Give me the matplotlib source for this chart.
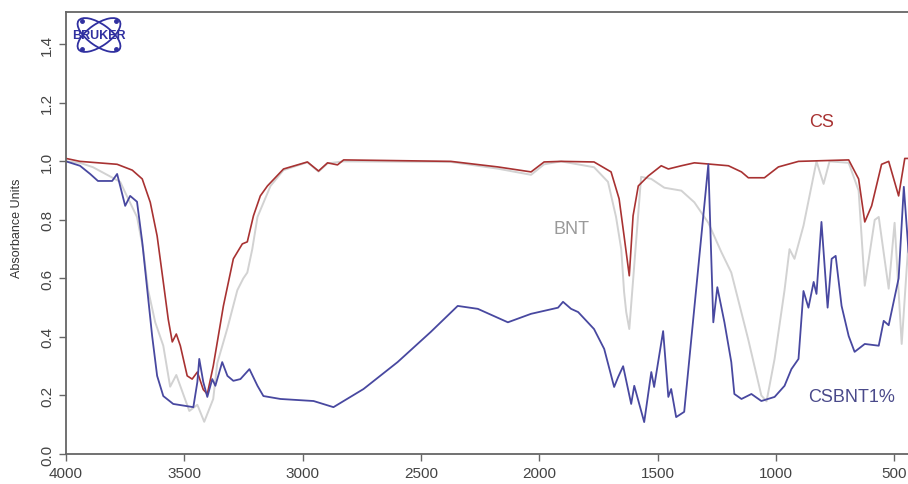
import numpy as np
import matplotlib.pyplot as plt
from matplotlib.patches import Ellipse

plt.rcParams['font.family'] = ['Liberation Sans', 'DejaVu Sans']

# CS spectrum (wavenumber, absorbance)
cs_wn = [4000, 3941, 3784, 3720, 3678, 3644, 3615, 3589, 3568, 3551, 3534, 3517,
         3488, 3467, 3445, 3420, 3403, 3378, 3335, 3293, 3255, 3234, 3208, 3179,
         3149, 3081, 2980, 2933, 2895, 2853, 2827, 2374, 2175, 2035, 1980, 1908,
         1769, 1697, 1663, 1642, 1620, 1604, 1582, 1540, 1485, 1455, 1400, 1345,
         1286, 1201, 1146, 1117, 1049, 990, 905, 693, 651, 625, 596, 554, 524,
         482, 456, 432]
cs_abs = [1.01, 1.0, 0.99, 0.97, 0.94, 0.86, 0.745, 0.588, 0.46, 0.383, 0.41, 0.37,
          0.267, 0.256, 0.28, 0.22, 0.205, 0.30, 0.506, 0.667, 0.718, 0.725, 0.814, 0.882,
          0.916, 0.974, 0.998, 0.967, 0.995, 0.988, 1.005, 1.0, 0.981, 0.964, 0.998, 1.0,
          0.998, 0.964, 0.872, 0.745, 0.609, 0.814, 0.916, 0.95, 0.985, 0.974, 0.985, 0.995,
          0.991, 0.985, 0.964, 0.944, 0.944, 0.981, 1.0, 1.005, 0.94, 0.793, 0.848, 0.99, 1.0,
          0.882, 1.01, 1.01]

# BNT spectrum
bnt_wn = [4000, 3941, 3886, 3771, 3742, 3700, 3674, 3653, 3623, 3589, 3560, 3534,
          3479, 3445, 3416, 3378, 3361, 3318, 3276, 3251, 3234, 3213, 3191, 3136,
          3081, 2980, 2933, 2895, 2827, 2374, 2175, 2035, 1980, 1908, 1769, 1710,
          1676, 1654, 1642, 1633, 1620, 1570, 1527, 1472, 1400, 1345, 1286, 1231,
          1189, 1117, 1062, 1040, 1006, 964, 943, 922, 884, 850, 829, 799, 774,
          693, 651, 625, 583, 566, 524, 499, 469, 440, 432]
bnt_abs = [1.0, 0.995, 0.98, 0.93, 0.88, 0.81, 0.70, 0.56, 0.45, 0.37, 0.23, 0.27,
           0.147, 0.168, 0.11, 0.188, 0.31, 0.43, 0.56, 0.60, 0.62, 0.70, 0.81, 0.916,
           0.97, 0.997, 0.965, 0.993, 1.0, 0.998, 0.975, 0.954, 0.99, 1.0, 0.98, 0.93,
           0.81, 0.70, 0.554, 0.485, 0.427, 0.947, 0.94, 0.91, 0.90, 0.86, 0.79, 0.69,
           0.62, 0.39, 0.20, 0.18, 0.325, 0.56, 0.70, 0.667, 0.78, 0.916, 1.0, 0.923, 1.0,
           0.995, 0.90, 0.575, 0.80, 0.81, 0.565, 0.79, 0.376, 0.73, 0.80]

# CSBNT1% spectrum
mix_wn = [4000, 3941, 3898, 3865, 3805, 3784, 3750, 3729, 3700, 3678, 3657, 3636,
          3615, 3589, 3547, 3462, 3445, 3437, 3420, 3403, 3382, 3369, 3340, 3318,
          3293, 3263, 3225, 3191, 3166, 3094, 2954, 2870, 2743, 2599, 2459, 2345,
          2260, 2133, 2035, 1921, 1900, 1866, 1836, 1769, 1726, 1684, 1667, 1646,
          1612, 1599, 1557, 1527, 1515, 1477, 1455, 1443, 1422, 1388, 1286, 1265,
          1248, 1218, 1189, 1176, 1146, 1104, 1062, 1006, 964, 935, 905, 884, 863,
          841, 829, 808, 782, 765, 748, 723, 693, 668, 625, 566, 545, 524, 482,
          460, 440, 432]
mix_abs = [1.0, 0.985, 0.957, 0.933, 0.933, 0.957, 0.848, 0.882, 0.862, 0.725, 0.564, 0.403,
           0.267, 0.198, 0.171, 0.16, 0.246, 0.325, 0.246, 0.195, 0.256, 0.233, 0.314, 0.267,
           0.25, 0.256, 0.29, 0.233, 0.198, 0.188, 0.181, 0.16, 0.222, 0.314, 0.417, 0.506,
           0.496, 0.45, 0.479, 0.50, 0.52, 0.496, 0.485, 0.427, 0.359, 0.229, 0.263, 0.30,
           0.171, 0.233, 0.109, 0.28, 0.229, 0.42, 0.195, 0.222, 0.126, 0.144, 0.99, 0.45,
           0.57, 0.45, 0.314, 0.205, 0.188, 0.205, 0.181, 0.195, 0.233, 0.29, 0.325, 0.557, 0.50,
           0.588, 0.547, 0.793, 0.50, 0.667, 0.677, 0.506, 0.403, 0.349, 0.376, 0.37, 0.455, 0.44, 0.60,
           0.913, 0.69, 0.66]

x_ticks = [4000, 3500, 3000, 2500, 2000, 1500, 1000, 500]
y_ticks = [0.0, 0.2, 0.4, 0.6, 0.8, 1.0, 1.2, 1.4]

red = '#a83232'
gray = '#d2d2d2'
blue = '#4848a0'

fig = plt.figure(figsize=(9.08, 4.85), dpi=100)
ax = fig.add_axes([0.0727, 0.0619, 0.93, 0.911])

ax.plot(bnt_wn, bnt_abs, color=gray, lw=1.4)
ax.plot(cs_wn, cs_abs, color=red, lw=1.2)
ax.plot(mix_wn, mix_abs, color=blue, lw=1.3)

ax.set_xlim(4000, 432)
ax.set_ylim(0, 1.51)
ax.set_xticks(x_ticks)
ax.set_xticklabels([str(t) for t in x_ticks], fontsize=11, color='#444444')
ax.set_yticks(y_ticks)
ax.set_yticklabels(['%.1f' % t for t in y_ticks], fontsize=11, color='#444444',
                   rotation=90, va='center')
ax.tick_params(direction='out', length=5, color='#666666', width=1)
for s in ['left', 'top', 'bottom']:
    ax.spines[s].set_color('#666666')
    ax.spines[s].set_linewidth(1.3)
ax.spines['right'].set_visible(False)

fig.text(0.019, 0.53, 'Absorbance Units', rotation=90, fontsize=9,
         color='#333333', ha='center', va='center')

ax.text(808, 1.135, 'CS', color=red, fontsize=13, ha='center', va='center')
ax.text(1866, 0.77, 'BNT', color='#9a9a9a', fontsize=13, ha='center', va='center')
ax.text(680, 0.198, 'CSBNT1%', color='#4a4a8a', fontsize=13, ha='center', va='center')

# Bruker logo in a small equal-aspect inset
logo_blue = '#3030a0'
lg = fig.add_axes([66 / 908, 1 - 58 / 485, 66 / 908, 44 / 485])
lg.set_xlim(-33, 33)
lg.set_ylim(-22, 22)
lg.set_aspect('equal')
lg.axis('off')
for ang in [35, -35]:
    lg.add_patch(Ellipse((0, 0), 50, 22, angle=ang, fill=False, ec=logo_blue, lw=1.3))
lg.plot([-17, 17, -17, 17], [14, 14, -14, -14], 'o', color=logo_blue, ms=2.5)
lg.text(0, 0, 'BRUKER', color=logo_blue, fontsize=9, fontweight='bold',
        ha='center', va='center')

fig.savefig('out.png', dpi=100)
